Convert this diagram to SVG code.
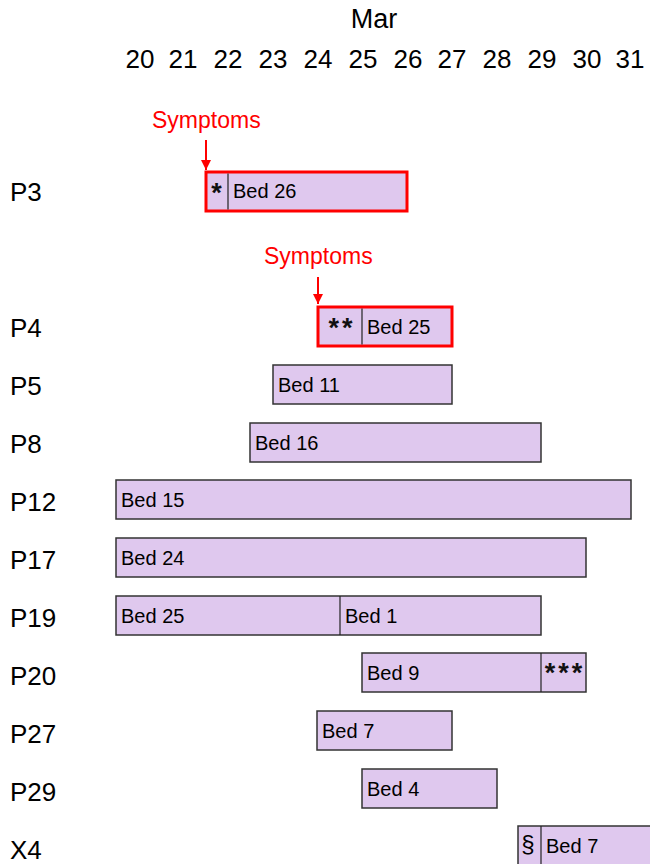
<svg xmlns="http://www.w3.org/2000/svg" width="650" height="864" viewBox="0 0 650 864">
<defs>
<style>
.hdr{font-family:"Liberation Sans",Arial,sans-serif;font-size:26px;fill:#000;text-anchor:middle}
.row{font-family:"Liberation Sans",Arial,sans-serif;font-size:26px;fill:#000}
.bed{font-family:"Liberation Sans",Arial,sans-serif;font-size:20px;fill:#000}
.ast{font-family:"Liberation Sans",Arial,sans-serif;font-size:27px;font-weight:bold;letter-spacing:3px;fill:#111;text-anchor:middle}
.mid{text-anchor:middle}
.sym{font-family:"Liberation Sans",Arial,sans-serif;font-size:23px;fill:#ff0000}
.bar{fill:#dfc8ee;stroke:#333;stroke-width:1.5}
.hot{fill:#dfc8ee;stroke:#ff0000;stroke-width:3}
.div{stroke:#222;stroke-width:1.2}
.arr{stroke:#ff0000;stroke-width:2;fill:none}
</style>
<marker id="ah" viewBox="0 0 10 10" refX="10" refY="5" markerWidth="5" markerHeight="5" markerUnits="strokeWidth" orient="auto">
<path d="M0,0 L10,5 L0,10 z" fill="#ff0000"/>
</marker>
</defs>
<rect width="650" height="864" fill="#fff"/>
<g id="header">
<text class="hdr" x="374" y="28" style="font-size:27px">Mar</text>
<text class="hdr" x="140" y="68">20</text>
<text class="hdr" x="183" y="68">21</text>
<text class="hdr" x="228" y="68">22</text>
<text class="hdr" x="273" y="68">23</text>
<text class="hdr" x="318" y="68">24</text>
<text class="hdr" x="363" y="68">25</text>
<text class="hdr" x="408" y="68">26</text>
<text class="hdr" x="452" y="68">27</text>
<text class="hdr" x="497" y="68">28</text>
<text class="hdr" x="542" y="68">29</text>
<text class="hdr" x="587" y="68">30</text>
<text class="hdr" x="630" y="68">31</text>
</g>
<g id="connectors">
<line class="arr" x1="206" y1="140" x2="206" y2="170" marker-end="url(#ah)"/>
<line class="arr" x1="318" y1="277" x2="318" y2="304" marker-end="url(#ah)"/>
</g>
<g id="P3">
<text class="row" x="10" y="201">P3</text>
<text class="sym" x="152" y="128">Symptoms</text>
<rect class="hot" x="206" y="172" width="201" height="39"/>
<line class="div" x1="228" y1="173.5" x2="228" y2="209.5"/>
<text class="ast" x="218" y="202">*</text>
<text class="bed" x="233" y="198">Bed 26</text>
</g>
<g id="P4">
<text class="row" x="10" y="337">P4</text>
<text class="sym" x="264" y="264">Symptoms</text>
<rect class="hot" x="318" y="307" width="134" height="39"/>
<line class="div" x1="362" y1="308.5" x2="362" y2="344.5"/>
<text class="ast" x="342" y="337">**</text>
<text class="bed" x="367" y="334">Bed 25</text>
</g>
<g id="P5">
<text class="row" x="10" y="395">P5</text>
<rect class="bar" x="273" y="365" width="179" height="39"/>
<text class="bed" x="278" y="392">Bed 11</text>
</g>
<g id="P8">
<text class="row" x="10" y="453">P8</text>
<rect class="bar" x="250" y="423" width="291" height="39"/>
<text class="bed" x="255" y="450">Bed 16</text>
</g>
<g id="P12">
<text class="row" x="10" y="511">P12</text>
<rect class="bar" x="116" y="480" width="515" height="39"/>
<text class="bed" x="121" y="507">Bed 15</text>
</g>
<g id="P17">
<text class="row" x="10" y="569">P17</text>
<rect class="bar" x="116" y="538" width="470" height="39"/>
<text class="bed" x="121" y="565">Bed 24</text>
</g>
<g id="P19">
<text class="row" x="10" y="627">P19</text>
<rect class="bar" x="116" y="596" width="425" height="39"/>
<line class="div" x1="340" y1="596" x2="340" y2="635"/>
<text class="bed" x="121" y="623">Bed 25</text>
<text class="bed" x="345" y="623">Bed 1</text>
</g>
<g id="P20">
<text class="row" x="10" y="685">P20</text>
<rect class="bar" x="362" y="653" width="224" height="39"/>
<line class="div" x1="541" y1="653" x2="541" y2="692"/>
<text class="bed" x="367" y="680">Bed 9</text>
<text class="ast" x="565" y="682">***</text>
</g>
<g id="P27">
<text class="row" x="10" y="743">P27</text>
<rect class="bar" x="317" y="711" width="135" height="39"/>
<text class="bed" x="322" y="738">Bed 7</text>
</g>
<g id="P29">
<text class="row" x="10" y="801">P29</text>
<rect class="bar" x="362" y="769" width="135" height="39"/>
<text class="bed" x="367" y="796">Bed 4</text>
</g>
<g id="X4">
<text class="row" x="10" y="859">X4</text>
<rect class="bar" x="518" y="826" width="140" height="45"/>
<line class="div" x1="541" y1="826" x2="541" y2="864"/>
<text class="bed mid" x="528" y="852" style="font-size:24px">§</text>
<text class="bed" x="546" y="853">Bed 7</text>
</g>
</svg>
